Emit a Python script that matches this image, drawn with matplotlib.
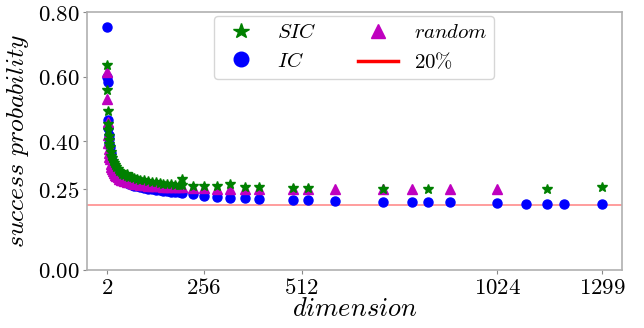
import matplotlib
matplotlib.use("Agg")
import matplotlib.pyplot as plt
from matplotlib.lines import Line2D

plt.rcParams['mathtext.fontset'] = 'cm'
plt.rcParams['font.family'] = ['DejaVu Serif']

# dense region dimensions (shared)
dense_d = [2, 3, 4, 5, 6, 7, 8, 9, 10, 12, 14, 16, 18, 20, 23, 26, 30, 34, 38, 43,
           48, 54, 60, 67, 74, 82, 90, 100, 110, 120, 130, 140, 150, 160, 170, 180,
           190, 200]

sic_dense = [0.636, 0.558, 0.494, 0.453, 0.435, 0.417, 0.402, 0.391, 0.381, 0.366,
             0.355, 0.346, 0.338, 0.333, 0.325, 0.319, 0.313, 0.308, 0.304, 0.299,
             0.296, 0.292, 0.289, 0.287, 0.284, 0.282, 0.280, 0.278, 0.276, 0.274,
             0.272, 0.270, 0.268, 0.267, 0.266, 0.265, 0.264, 0.263]
ic_dense = [0.753, 0.600, 0.584, 0.465, 0.440, 0.420, 0.405, 0.392, 0.380, 0.362,
            0.348, 0.337, 0.328, 0.320, 0.311, 0.304, 0.296, 0.290, 0.285, 0.280,
            0.276, 0.272, 0.268, 0.265, 0.262, 0.259, 0.257, 0.254, 0.252, 0.250,
            0.248, 0.247, 0.245, 0.244, 0.243, 0.242, 0.241, 0.239]
rnd_dense = [0.615, 0.530, 0.460, 0.418, 0.393, 0.376, 0.362, 0.352, 0.343, 0.330,
             0.320, 0.313, 0.306, 0.301, 0.295, 0.291, 0.287, 0.283, 0.280, 0.278,
             0.276, 0.274, 0.272, 0.270, 0.268, 0.266, 0.265, 0.263, 0.262, 0.261,
             0.260, 0.259, 0.258, 0.258, 0.257, 0.257, 0.256, 0.256]

# sparse high-dimension points
sic_extra_d = [56, 198, 227, 256, 290, 324, 365, 400, 489, 528, 724, 844, 1155, 1299]
sic_extra_v = [0.298, 0.282, 0.260, 0.261, 0.260, 0.267, 0.258, 0.258, 0.253, 0.253,
               0.252, 0.252, 0.251, 0.256]
ic_extra_d = [227, 256, 290, 324, 365, 400, 489, 528, 600, 724, 800, 844, 900, 1024,
              1100, 1155, 1200, 1299]
ic_extra_v = [0.235, 0.230, 0.227, 0.224, 0.224, 0.221, 0.217, 0.217, 0.215, 0.212,
              0.211, 0.210, 0.210, 0.207, 0.206, 0.205, 0.205, 0.204]
rnd_extra_d = [227, 256, 290, 324, 365, 400, 489, 528, 600, 724, 800, 900, 1024]
rnd_extra_v = [0.253, 0.253, 0.252, 0.252, 0.252, 0.252, 0.251, 0.251, 0.251, 0.251,
               0.251, 0.251, 0.251]

threshold = 0.2
xticks = [2, 256, 512, 1024, 1299]
yticks = [0.0, 0.25, 0.40, 0.60, 0.80]

fig = plt.figure(figsize=(6.44, 3.28), dpi=100)
ax = fig.add_axes([0.135, 0.177, 0.8305, 0.786])

ax.axhline(threshold, color='red', lw=1.2, alpha=0.45, zorder=1)
ax.plot(dense_d + ic_extra_d, ic_dense + ic_extra_v, 'o', color='blue', ms=6.5,
        mec='blue', ls='none', zorder=2)
ax.plot(dense_d + rnd_extra_d, rnd_dense + rnd_extra_v, '^', color='m', ms=6.5,
        ls='none', zorder=3)
ax.plot(dense_d + sic_extra_d, sic_dense + sic_extra_v, '*', color='green', ms=7.5,
        ls='none', zorder=4)

ax.set_xlim(-50, 1350)
ax.set_ylim(0, 0.8)
ax.set_xticks(xticks)
ax.set_xticklabels([f'${t}$' for t in xticks], fontsize=16.5)
ax.set_yticks(yticks)
ax.set_yticklabels([f'${t:.2f}$' for t in yticks], fontsize=16.5)
ax.tick_params(colors='#888888', labelcolor='black', length=3, width=0.8, pad=2)
for s in ax.spines.values():
    s.set_color('#b0b0b0')
    s.set_linewidth(1.2)

ax.set_xlabel(r'$dimension$', fontsize=19, labelpad=-2)
ax.set_ylabel(r'$success\ probability$', fontsize=18.5, labelpad=5)

handles = [
    Line2D([], [], marker='*', color='green', ls='none', ms=11.5),
    Line2D([], [], marker='o', color='blue', ls='none', ms=10.5),
    Line2D([], [], marker='^', color='m', ls='none', ms=10.5),
    Line2D([], [], color='red', lw=2.5),
]
labels = [r'$SIC$', r'$IC$', r'$random$', r'$20\%$']
leg = ax.legend(handles, labels, loc='upper center', ncol=2, fontsize=15,
                borderaxespad=0.2, frameon=True, fancybox=True, framealpha=0.8,
                edgecolor='#cccccc', columnspacing=1.95, handletextpad=0.75,
                handlelength=1.95, labelspacing=0.45, borderpad=0.33)

fig.savefig('out.png', dpi=100)
